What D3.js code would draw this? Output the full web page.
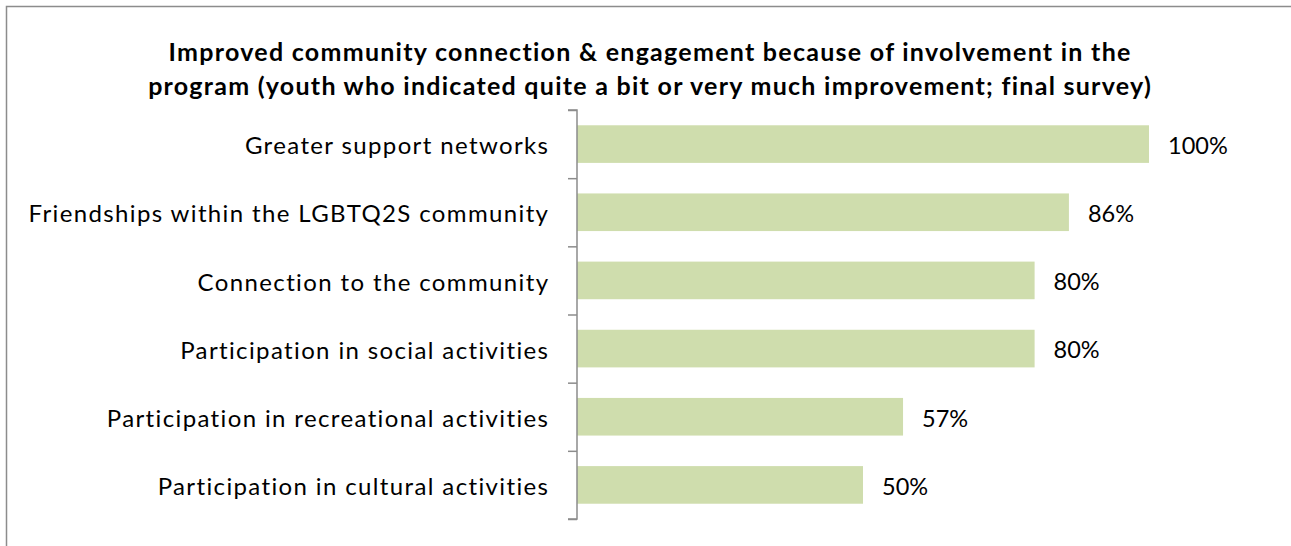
<!DOCTYPE html>
<html>
<head>
<meta charset="utf-8">
<script src="https://cdn.jsdelivr.net/npm/d3@7"></script>
<style>
  html, body { margin: 0; padding: 0; background: #fff; }
  svg { display: block; }
  text { font-family: Lato, "Open Sans", sans-serif; fill: #000; }
</style>
</head>
<body>
<svg id="chart" width="1291" height="546"></svg>
<script>
// Survey results: share of youth reporting improvement
const categories = [
  "Greater support networks",
  "Friendships within the LGBTQ2S community",
  "Connection to the community",
  "Participation in social activities",
  "Participation in recreational activities",
  "Participation in cultural activities"
];
const values = [1.00, 0.86, 0.80, 0.80, 0.57, 0.50];
const titleLines = [
  "Improved community connection & engagement because of involvement in the",
  "program (youth who indicated quite a bit or very much improvement; final survey)"
];

const svg = d3.select("#chart");
const W = 1291, H = 546;

// chart area frame
svg.append("rect")
  .attr("x", 6.5).attr("y", 6.5)
  .attr("width", W + 20).attr("height", H + 20)
  .attr("fill", "#fff")
  .attr("stroke", "#8c8c8c").attr("stroke-width", 1.5);

const plot = { left: 577, right: 1149, top: 110, bottom: 519 };

const x = d3.scaleLinear().domain([0, 1]).range([plot.left, plot.right]);
const y = d3.scaleBand().domain(categories)
  .range([plot.top, plot.bottom])
  .paddingInner(0.448).paddingOuter(0.224);

// title
const titleLS = 1.27;
svg.append("text")
  .attr("text-anchor", "middle")
  .style("font-weight", "bold").style("font-size", "25px")
  .style("letter-spacing", titleLS + "px")
  .selectAll("tspan").data(titleLines).join("tspan")
  .attr("x", 649.5 + titleLS / 2)
  .attr("y", (d, i) => 61 + i * 34)
  .text(d => d);

// bars
svg.append("g").selectAll("rect").data(categories).join("rect")
  .attr("x", x(0))
  .attr("y", d => y(d))
  .attr("width", (d, i) => x(values[i]) - x(0))
  .attr("height", y.bandwidth())
  .attr("fill", "#cfddad");

// value labels
svg.append("g").selectAll("text").data(categories).join("text")
  .attr("x", (d, i) => x(values[i]) + 19)
  .attr("y", d => y(d) + y.bandwidth() / 2)
  .attr("dy", "0.42em")
  .style("font-size", "23.5px")
  .text((d, i) => Math.round(values[i] * 100) + "%");

// category axis: boundary ticks between categories
const idx = d3.scaleLinear().domain([0, categories.length]).range([plot.top, plot.bottom]);
const tickAxis = svg.append("g")
  .attr("transform", `translate(${plot.left},0)`)
  .call(d3.axisLeft(idx).tickValues(d3.range(categories.length + 1)).tickSize(9).tickFormat(""));
tickAxis.selectAll("path, line").attr("stroke", "#8c8c8c").attr("stroke-width", 1.5);
tickAxis.select(".domain").attr("d", `M-9,${plot.top}H0V${plot.bottom}H-9`);

// category labels
const labelLS = 1.37;
const labelAxis = svg.append("g")
  .attr("transform", `translate(${plot.left},0)`)
  .call(d3.axisLeft(y).tickSize(0).tickPadding(29 - labelLS));
labelAxis.select(".domain").remove();
labelAxis.selectAll("text")
  .attr("dy", "0.42em")
  .style("font-size", "24px")
  .style("letter-spacing", labelLS + "px")
  .style("font-family", "Lato, 'Open Sans', sans-serif")
  .attr("fill", "#000");
</script>
</body>
</html>
